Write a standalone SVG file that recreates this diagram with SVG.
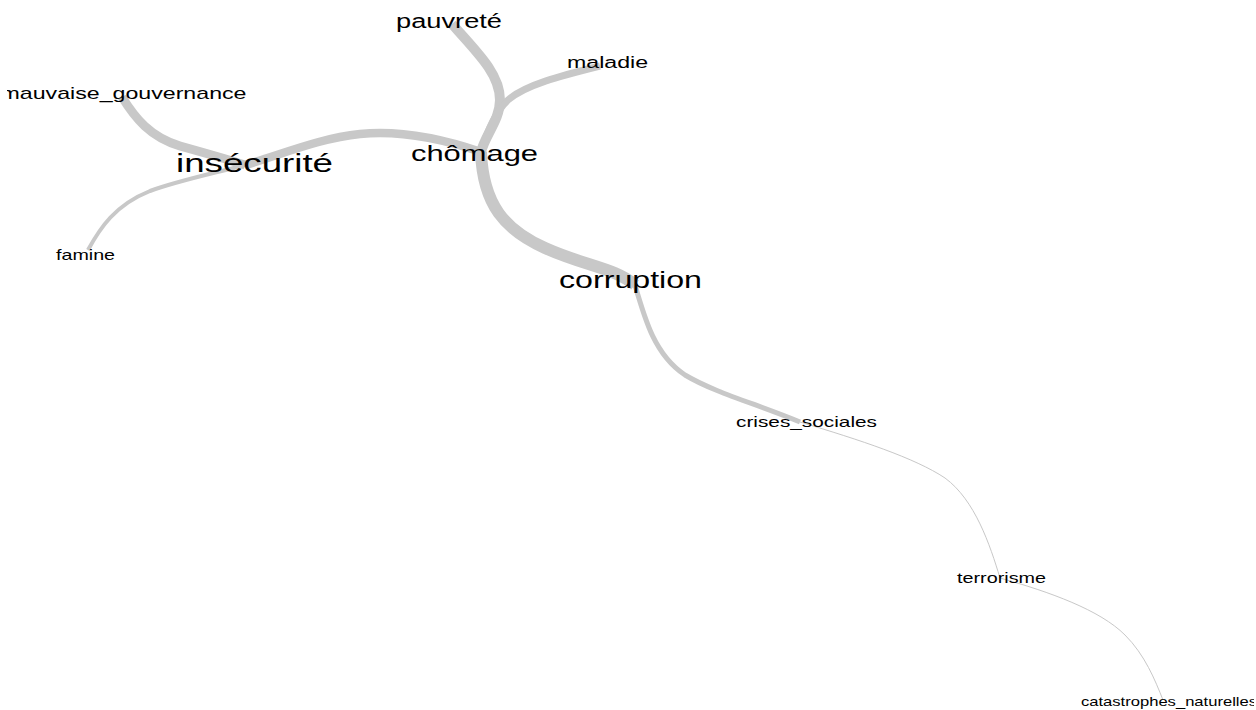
<svg xmlns="http://www.w3.org/2000/svg" width="1256" height="710" viewBox="0 0 1256 710">
<style>
.e{fill:none;stroke:#c8c8c8;stroke-linecap:butt}
.t{font-family:"Liberation Sans",Arial,sans-serif;fill:#000}
</style>
<defs>
<clipPath id="plot"><rect x="7" y="0" width="1247" height="710"/></clipPath>
</defs>
<rect width="1256" height="710" fill="#fff"/>
<g clip-path="url(#plot)">
<g id="connectors">
<path class="e" stroke-width="12" d="M481,152 C483,205 505,230 545,248 S615,268 635,285"/>
<path class="e" stroke-width="8.5" d="M481,152 C440,138 400,130 360,134 S280,155 245,165"/>
<path class="e" stroke-width="10" d="M452,24 C480,55 500,75 500,100 C500,120 485,135 481,152"/>
<path class="e" stroke-width="7" d="M600,66 C560,76 525,85 508,100 C495,112 486,135 481,152"/>
<path class="e" stroke-width="9" d="M122,97 C135,118 150,137 180,146 C205,153 230,160 245,165"/>
<path class="e" stroke-width="4" d="M88,250 C100,228 115,205 150,191 C180,180 220,172 245,165"/>
<path class="e" stroke-width="5" d="M635,285 C645,320 655,355 685,375 C715,393 760,405 800,422"/>
<path class="e" stroke-width="1" d="M800,422 C860,440 915,458 945,478 C975,500 990,545 1000,578"/>
<path class="e" stroke-width="1" d="M1000,578 C1050,592 1100,610 1125,635 C1145,655 1155,680 1163,700"/>
</g>
<g id="node-pauvrete"><text class="t" x="396" y="28" font-size="20" textLength="106" lengthAdjust="spacingAndGlyphs">pauvreté</text></g>
<g id="node-maladie"><text class="t" x="567" y="68" font-size="16" textLength="81" lengthAdjust="spacingAndGlyphs">maladie</text></g>
<g id="node-mauvaise_gouvernance"><text class="t" x="0.5" y="99" font-size="17" textLength="246" lengthAdjust="spacingAndGlyphs">mauvaise_gouvernance</text></g>
<g id="node-insecurite"><text class="t" x="176" y="172" font-size="25" textLength="157" lengthAdjust="spacingAndGlyphs">insécurité</text></g>
<g id="node-chomage"><text class="t" x="411" y="161" font-size="22" textLength="127" lengthAdjust="spacingAndGlyphs">chômage</text></g>
<g id="node-famine"><text class="t" x="56" y="260" font-size="15" textLength="59" lengthAdjust="spacingAndGlyphs">famine</text></g>
<g id="node-corruption"><text class="t" x="559" y="288" font-size="24" textLength="143" lengthAdjust="spacingAndGlyphs">corruption</text></g>
<g id="node-crises_sociales"><text class="t" x="736" y="427" font-size="15" textLength="141" lengthAdjust="spacingAndGlyphs">crises_sociales</text></g>
<g id="node-terrorisme"><text class="t" x="957" y="583" font-size="15" textLength="89" lengthAdjust="spacingAndGlyphs">terrorisme</text></g>
<g id="node-catastrophes_naturelles"><text class="t" x="1081" y="706" font-size="13" textLength="176" lengthAdjust="spacingAndGlyphs">catastrophes_naturelles</text></g>
</g>
</svg>
